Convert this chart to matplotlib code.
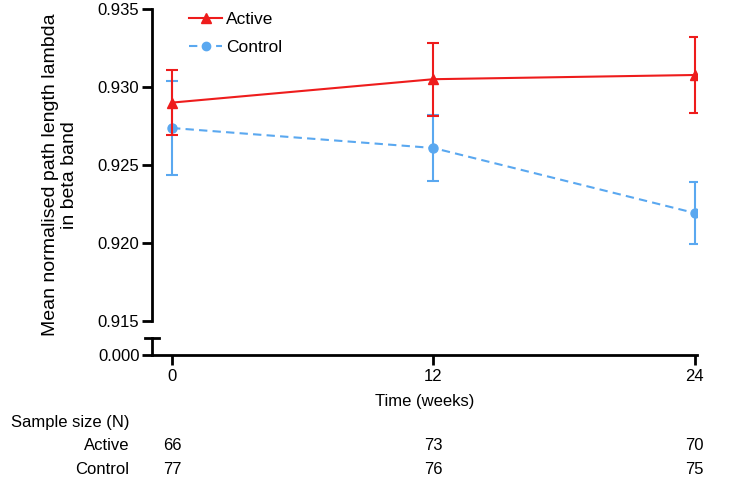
import matplotlib.pyplot as plt
from matplotlib.lines import Line2D

plt.rcParams['font.family'] = ['Liberation Sans', 'DejaVu Sans']

weeks = [0, 12, 24]
active_mean = [0.9290, 0.9305, 0.93077]
active_err = [0.0021, 0.00235, 0.00245]
control_mean = [0.92737, 0.92609, 0.92192]
control_err = [0.0030, 0.0021, 0.0020]
active_n = [66, 73, 70]
control_n = [77, 76, 75]

red = "#ee1c1c"
blue = "#5aa8f0"
dash = (0, (4, 2.5))

fig = plt.figure(figsize=(7.32, 4.87), dpi=100)
left, right = 152 / 732, 697 / 732
ax = fig.add_axes([left, 1 - 321 / 487, right - left, (321 - 9) / 487])
axb = fig.add_axes([left, 1 - 355 / 487, right - left, (355 - 338) / 487])

ax.errorbar(weeks, control_mean, yerr=control_err, color=blue, lw=1.5,
            ls=dash, marker="o", ms=6.5, capsize=4.5, capthick=1.5,
            elinewidth=1.5, zorder=3)
ax.errorbar(weeks, active_mean, yerr=active_err, color=red, lw=1.5,
            marker="^", ms=7, capsize=4.5, capthick=1.5, elinewidth=1.5,
            zorder=4)

xlim = (-0.92, 24.1)
ax.set_xlim(*xlim)
ax.set_ylim(0.915, 0.935)
ax.set_yticks([0.915, 0.920, 0.925, 0.930, 0.935])
ax.set_yticklabels(["0.915", "0.920", "0.925", "0.930", "0.935"])
for s in ["top", "right", "bottom"]:
    ax.spines[s].set_visible(False)
ax.spines["left"].set_linewidth(2)
ax.set_xticks([])
ax.tick_params(axis="y", length=7, width=2, labelsize=12, pad=2)

handles = [
    Line2D([], [], color=red, lw=1.5, marker="^", ms=6.5),
    Line2D([], [], color=blue, lw=1.5, ls=dash, marker="o", ms=6),
]
ax.legend(handles, ["Active", "Control"], loc="upper left",
          bbox_to_anchor=(0.04, 1.04), frameon=False, fontsize=12.5,
          handlelength=1.9, handletextpad=0.2, labelspacing=0.75)

axb.set_xlim(*xlim)
axb.set_ylim(0, 1)
axb.set_yticks([0])
axb.set_yticklabels(["0.000"])
axb.set_xticks(weeks)
axb.set_xticklabels([str(w) for w in weeks])
for s in ["top", "right"]:
    axb.spines[s].set_visible(False)
axb.spines["left"].set_linewidth(2)
axb.spines["bottom"].set_linewidth(2)
axb.tick_params(axis="y", length=7, width=2, labelsize=12, pad=2)
axb.tick_params(axis="x", length=7, width=2, labelsize=12, pad=3)
axb.plot([-0.012, 0.012], [1, 1], color="black", lw=2,
         transform=axb.transAxes, clip_on=False)
axb.set_xlabel("Time (weeks)", fontsize=12, labelpad=7)

fig.text(60 / 732, 1 - 175 / 487,
         "Mean normalised path length lambda\nin beta band",
         rotation=90, ha="center", va="center", fontsize=14,
         multialignment="center", linespacing=1.1)

fig.text(11 / 732, 1 - 422 / 487, "Sample size (N)", fontsize=12,
         ha="left", va="center")
fig.text(129 / 732, 1 - 446 / 487, "Active", fontsize=12,
         ha="right", va="center")
fig.text(129 / 732, 1 - 470 / 487, "Control", fontsize=12,
         ha="right", va="center")

# sample sizes sit under the x ticks
for w, n1, n2 in zip(weeks, active_n, control_n):
    px = axb.transData.transform((w, 0))[0] / fig.dpi / fig.get_figwidth()
    fig.text(px, 1 - 446 / 487, str(n1), fontsize=12, ha="center", va="center")
    fig.text(px, 1 - 470 / 487, str(n2), fontsize=12, ha="center", va="center")

fig.savefig("out.png", dpi=100)
